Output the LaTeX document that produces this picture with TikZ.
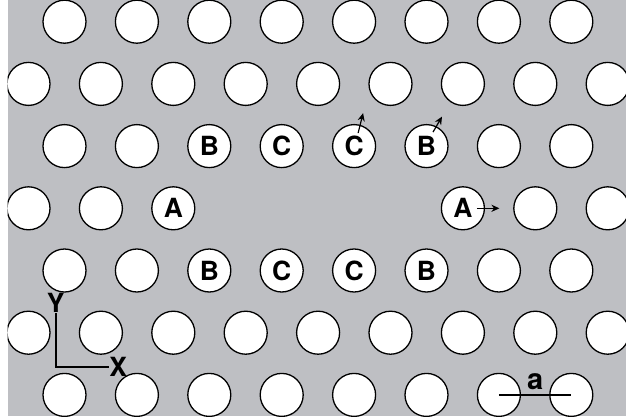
\documentclass[tikz,border=0pt]{standalone}
\usepackage{fontspec}
\setsansfont{TeX Gyre Heros}
\usetikzlibrary{arrows.meta}
\definecolor{platebg}{RGB}{190,191,195}

\begin{document}
\begin{tikzpicture}[
  x=0.5pt, y=-0.5pt,
  hole/.style={circle, draw=black, fill=white, line width=0.65pt,
               minimum size=21.5pt, inner sep=0pt,
               font=\sffamily\bfseries\fontsize{13.2}{14}\selectfont},
  shiftarr/.style={-{Stealth[length=4pt,width=3.6pt]}, line width=0.6pt},
  axisline/.style={line width=1pt},
  axislabel/.style={font=\sffamily\bfseries\fontsize{13.2}{14}\selectfont,
                    inner sep=0pt},
  barlabel/.style={font=\sffamily\bfseries\fontsize{14.5}{15}\selectfont,
                   inner sep=0pt}
]
  \useasboundingbox (0,0) rectangle (626,418);

  % Plate
  \fill[platebg] (7.5,0) rectangle (626,416);

  \begin{scope}
    \clip (7.5,0) rectangle (626,416);

    % full rows
    \foreach \r in {0,6}
      \foreach \k in {0,...,7}
        \node[hole] (h\r-\k) at ({64.5+72.4*\k},{21.7+62.2*\r}) {};
    \foreach \r in {1,5}
      \foreach \k in {0,...,8}
        \node[hole] (h\r-\k) at ({28.5+72.4*\k},{21.7+62.2*\r}) {};

    % rows next to the guide
    \foreach \r in {2,4}
      \foreach \k in {0,1,6,7}
        \node[hole] (h\r-\k) at ({64.5+72.4*\k},{21.7+62.2*\r}) {};
    \node[hole] (bUL) at (209.3,146.1) {B};
    \node[hole] (cUL) at (281.7,146.1) {C};
    \node[hole] (cUR) at (354.1,146.1) {C};
    \node[hole] (bUR) at (426.5,146.1) {B};
    \node[hole] (bLL) at (209.3,270.5) {B};
    \node[hole] (cLL) at (281.7,270.5) {C};
    \node[hole] (cLR) at (354.1,270.5) {C};
    \node[hole] (bLR) at (426.5,270.5) {B};

    % guide row
    \foreach \k in {0,1,7,8}
      \node[hole] (h3-\k) at ({28.5+72.4*\k},208.3) {};
    \node[hole] (aL) at (173.3,208.3) {A};
    \node[hole] (aR) at (462.9,208.3) {A};
  \end{scope}

  % hole shifts
  \draw[shiftarr] ([shift={(14,0)}]aR.center) -- ([shift={(36.5,0)}]aR.center);
  \draw[shiftarr] ([shift={(4,-13)}]cUR.center) -- ([shift={(9,-33)}]cUR.center);
  \draw[shiftarr] ([shift={(6.5,-14)}]bUR.center) -- ([shift={(15.5,-29.5)}]bUR.center);

  % lattice constant
  \draw[axisline, line width=0.85pt] (h6-6.center) -- (h6-7.center)
       node[barlabel, midway, above=2pt] (alab) {a};

  % axes
  \node[axislabel, anchor=south] (ylab) at (55.7,313) {Y};
  \node[axislabel, anchor=west] (xlab) at (109,367) {X};
  \draw[axisline] (ylab.south) |- (xlab.west);
\end{tikzpicture}
\end{document}
